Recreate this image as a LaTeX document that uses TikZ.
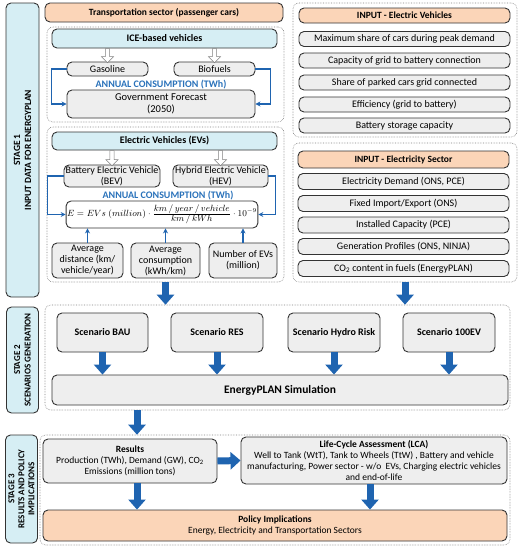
\documentclass[tikz,border=0pt]{standalone}
\usepackage{fontspec}
\setmainfont{Carlito}
\usetikzlibrary{positioning, shapes.arrows, arrows.meta}

\definecolor{stageblue}{HTML}{D6EEF4}
\definecolor{peach}{HTML}{FBD5B8}
\definecolor{lightgrey}{HTML}{EEEEEE}
\definecolor{arrowblue}{HTML}{1F64B0}
\definecolor{textblue}{HTML}{2A72BA}

\tikzset{
  box/.style={draw=black!80, line width=0.9pt, rounded corners=5pt, inner sep=1pt,
    align=center, font=\fontsize{10}{11}\selectfont},
  stagebox/.style={box, fill=stageblue, font=\bfseries\fontsize{9.5}{11}\selectfont},
  headbox/.style={box, fill=peach, font=\bfseries\fontsize{9.5}{11}\selectfont},
  greybox/.style={box, fill=lightgrey},
  group/.style={draw=gray, densely dotted, rounded corners=6pt, line width=0.6pt, inner sep=0pt},
  label/.style={text=textblue, font=\bfseries\fontsize{10}{11}\selectfont},
  bigarrow/.style={arrowblue, line width=7pt, -{Triangle[width=17pt,length=10pt]}},
  feed/.style={arrowblue, line width=1.1pt, -{Stealth[length=5pt,width=5pt]}},
  hollow/.style={single arrow, draw=gray, fill=white, line width=0.5pt, shape border rotate=270,
    minimum width=12pt, minimum height=14pt, single arrow head extend=3pt, inner sep=1.5pt, anchor=tail}
}

\begin{document}
\begin{tikzpicture}[x=1pt, y=-1pt]
  \useasboundingbox (0,0) rectangle (519,550);

  % dotted groups
  \node[group, minimum width=237pt, minimum height=95pt]  (icegroup) at (165.5,74.5) {};
  \node[group, minimum width=237pt, minimum height=155pt] (evgroup)  at (165.5,204.5) {};
  \node[group, minimum width=224pt, minimum height=134pt] (ingroup)  at (405,70) {};
  \node[group, minimum width=224pt, minimum height=139pt] (elgroup)  at (405,212.5) {};
  \node[group, minimum width=465pt, minimum height=105pt] (scgroup)  at (277.5,357.5) {};
  \node[group, minimum width=470pt, minimum height=110pt] (resgroup) at (275,490) {};

  % stages
  \node[stagebox, rotate=90, minimum width=294pt, minimum height=33pt] (stage1) at (22.5,150) {STAGE 1\\INPUT DATA FOR ENERGYPLAN};
  \node[stagebox, rotate=90, font=\bfseries\fontsize{9}{10.5}\selectfont, minimum width=106pt, minimum height=32pt] (stage2) at (22.5,360) {STAGE 2\\SCENARIOS GENERATION};
  \node[stagebox, rotate=90, font=\bfseries\fontsize{9}{10}\selectfont, minimum width=108pt, minimum height=32pt] (stage3) at (21.5,489) {STAGE 3\\RESULTS AND POLICY\\IMPLICATIONS};

  % transportation sector
  \node[headbox, minimum width=238pt, minimum height=19pt] (transport) at (164,12.5) {Transportation sector (passenger cars)};
  \node[stagebox, font=\bfseries\fontsize{10}{11}\selectfont, minimum width=225pt, minimum height=19pt] (ice) at (164.5,38.5) {ICE-based vehicles};
  \node[greybox, minimum width=81pt, minimum height=14pt] (gas) at (107.5,69) {Gasoline};
  \node[greybox, minimum width=81pt, minimum height=14pt] (bio) at (214.5,69) {Biofuels};
  \node[label] (annual1) at (161,85) {ANNUAL CONSUMPTION (TWh)};
  \node[greybox, font=\fontsize{10.5}{12}\selectfont, minimum width=188pt, minimum height=28pt] (gov) at (161,104) {Government Forecast\\(2050)};

  \node[hollow] (ha) at (ice.south -| gas.north) {};
  \node[hollow] (hb) at (ice.south -| bio.north) {};
  \draw[feed] (gas.west) -- ++(-15,0) |- (gov.west);
  \draw[feed] (bio.east) -- ++(15,0) |- (gov.east);

  % electric vehicles
  \node[stagebox, font=\bfseries\fontsize{10}{11}\selectfont, minimum width=225pt, minimum height=18pt] (ev) at (164.5,141) {Electric Vehicles (EVs)};
  \node[greybox, minimum width=96pt, minimum height=22pt] (bev) at (112,176) {Battery Electric Vehicle\\(BEV)};
  \node[greybox, minimum width=95pt, minimum height=22pt] (hev) at (220.5,176) {Hybrid Electric Vehicle\\(HEV)};
  \node[label] (annual2) at (168,196) {ANNUAL CONSUMPTION (TWh)};
  \node[box, fill=white, font=\fontsize{9}{10}\selectfont, minimum width=190pt, minimum height=27pt] (formula) at (162,214.5)
    {$E = EVs\;(million)\cdot\frac{\displaystyle km\,/\,year\,/\,vehicle}{\displaystyle km\,/\,kWh}\cdot 10^{-9}$};
  \node[greybox, minimum width=71pt, minimum height=35pt] (dist) at (87.5,260.5) {Average\\distance (km/\\vehicle/year)};
  \node[greybox, minimum width=69pt, minimum height=35pt] (cons) at (165.5,260.5) {Average\\consumption\\(kWh/km)};
  \node[greybox, minimum width=68pt, minimum height=35pt] (num) at (243,260.5) {Number of EVs\\(million)};

  \node[hollow, minimum height=15pt] (hc) at (ev.south -| bev.north) {};
  \node[hollow, minimum height=15pt] (hd) at (ev.south -| hev.north) {};
  \draw[feed] (bev.west) -- ++(-16,0) |- (formula.west);
  \draw[feed] (hev.east) -- ++(7,0) |- (formula.east);
  \draw[feed] (dist.north) -- (dist.north |- formula.south);
  \draw[feed] (cons.north) -- (cons.north |- formula.south);
  \draw[feed] (num.north) -- (num.north |- formula.south);

  % input - electric vehicles
  \node[headbox, minimum width=211pt, minimum height=15pt] (inev) at (404.5,15.5) {INPUT - Electric Vehicles};
  \node[greybox, minimum width=211pt, minimum height=15pt] (ev1) at (404.5,39) {Maximum share of cars during peak demand};
  \node[greybox, minimum width=211pt, minimum height=15pt] (ev2) at (404.5,60.5) {Capacity of grid to battery connection};
  \node[greybox, minimum width=211pt, minimum height=15pt] (ev3) at (404.5,82.5) {Share of parked cars grid connected};
  \node[greybox, minimum width=211pt, minimum height=15pt] (ev4) at (404.5,104.5) {Efficiency (grid to battery)};
  \node[greybox, minimum width=211pt, minimum height=15pt] (ev5) at (404.5,125.5) {Battery storage capacity};

  % input - electricity sector
  \node[headbox, minimum width=211pt, minimum height=17pt] (inel) at (403.5,159.5) {INPUT - Electricity Sector};
  \node[greybox, minimum width=211pt, minimum height=16pt] (el1) at (403.5,181.5) {Electricity Demand (ONS, PCE)};
  \node[greybox, minimum width=211pt, minimum height=16pt] (el2) at (403.5,203.5) {Fixed Import/Export (ONS)};
  \node[greybox, minimum width=211pt, minimum height=16pt] (el3) at (403.5,225) {Installed Capacity (PCE)};
  \node[greybox, minimum width=211pt, minimum height=16pt] (el4) at (403.5,246.5) {Generation Profiles (ONS, NINJA)};
  \node[greybox, minimum width=211pt, minimum height=16pt] (el5) at (403.5,268.5) {CO\textsubscript{2} content in fuels (EnergyPLAN)};

  \draw[bigarrow] (evgroup.south) -- (evgroup.south |- scgroup.north);
  \draw[bigarrow] (elgroup.south) -- (elgroup.south |- scgroup.north);

  % scenarios
  \node[greybox, font=\bfseries\fontsize{10}{11}\selectfont, minimum width=91pt, minimum height=39pt] (bau) at (102.5,332.5) {Scenario BAU};
  \node[greybox, font=\bfseries\fontsize{10}{11}\selectfont, minimum width=92pt, minimum height=39pt] (res) at (217,332.5) {Scenario RES};
  \node[greybox, font=\bfseries\fontsize{10}{11}\selectfont, minimum width=92pt, minimum height=39pt] (hydro) at (334,332.5) {Scenario Hydro Risk};
  \node[greybox, font=\bfseries\fontsize{10}{11}\selectfont, minimum width=92pt, minimum height=39pt] (full) at (449,332.5) {Scenario 100EV};
  \node[greybox, font=\bfseries\fontsize{11.5}{13}\selectfont, minimum width=456pt, minimum height=30pt] (sim) at (280,390) {EnergyPLAN Simulation};

  \foreach \s in {bau, res, hydro, full}
    \draw[bigarrow] (\s.south) -- (\s.south |- sim.north);

  % results and policy
  \node[greybox, font=\fontsize{9.5}{11}\selectfont, minimum width=174pt, minimum height=44pt] (results) at (130,461)
    {\textbf{Results}\\Production (TWh), Demand (GW), CO\textsubscript{2}\\Emissions (million tons)};
  \node[greybox, font=\fontsize{9.5}{11}\selectfont, minimum width=266pt, minimum height=47pt] (lca) at (374,460.5)
    {\textbf{Life-Cycle Assessment (LCA)}\\Well to Tank (WtT), Tank to Wheels (TtW) , Battery and vehicle\\manufacturing, Power sector - w/o\ \ EVs, Charging electric vehicles\\and end-of-life};
  \node[headbox, font=\fontsize{9.5}{11}\selectfont, minimum width=464pt, minimum height=31pt] (policy) at (275,525.5)
    {\textbf{Policy Implications}\\Energy, Electricity and Transportation Sectors};

  \coordinate (rx) at ([xshift=7pt]results.south);
  \draw[bigarrow] (rx |- scgroup.south) -- (rx |- resgroup.north);
  \draw[bigarrow] (results.east) -- (lca.west);
  \draw[bigarrow] (rx) -- (rx |- policy.north);
  \draw[bigarrow] ([xshift=-4pt]lca.south) -- ([xshift=-4pt]lca.south |- policy.north);
\end{tikzpicture}
\end{document}
